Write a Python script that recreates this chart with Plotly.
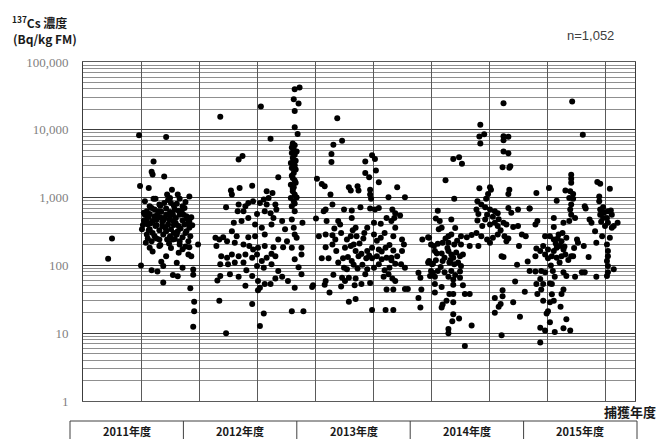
import plotly.graph_objects as go

# ---- data: capture month (months since April 2011) and 137Cs concentration (Bq/kg FM) ----
fy2011_month = [
    5.8, 8.6, 7.3, 7.1, 7.2, 8.4, 5.9, 6.8, 3.0, 2.6,
    9.2, 8.7, 9.8, 11.0, 7.3, 7.5, 9.0, 10.0,
    6.4, 6.9, 7.9, 8.4, 9.1, 9.7, 10.3, 10.5, 7.4, 8.6, 9.5, 6.6, 7.8, 9.0, 10.2,
    6.4, 6.9, 7.4, 8.0, 8.6, 9.0, 9.6, 10.0, 10.7, 11.2, 6.6, 7.2, 8.3, 9.3, 10.3, 11.0,
    6.2, 6.7, 7.6, 8.2, 8.8, 9.4, 9.9, 10.5, 11.0, 6.9, 7.9, 8.6, 9.1, 9.8, 10.7, 6.1,
    6.6, 7.4, 8.3, 9.0, 9.7, 10.3, 11.1, 7.9, 8.7, 9.5, 10.0, 10.9, 7.1,
    6.5, 7.9, 9.1, 10.0, 11.0, 6.9, 7.2, 9.9, 10.3, 10.9, 11.2, 11.9, 8.6,
    8.1, 9.7, 8.3, 10.3, 6.0, 7.1, 7.7, 9.3, 9.8, 11.4, 11.4, 8.3, 11.1,
    11.5, 11.5, 11.4,
    6.3, 6.8, 7.0, 7.6, 7.7, 8.1, 8.2, 8.5, 8.9, 9.2, 9.4, 9.6,
    9.9, 10.1, 10.4, 10.6, 10.8, 11.3, 7.2, 7.6, 8.0, 8.9, 9.3, 10.6,
    6.7, 6.3, 7.1, 8.0, 9.4, 8.8, 10.6, 9.3, 8.4, 7.5, 10.9, 6.8,
]
fy2011_cs = [
    8300, 7800, 3400, 2400, 2200, 2050, 1480, 1390, 250, 125,
    1300, 1110, 1110, 1040, 960, 960, 990, 960,
    880, 745, 790, 835, 835, 810, 745, 705, 665, 690, 665, 630, 630, 615, 630,
    560, 575, 530, 515, 560, 530, 500, 560, 530, 515, 475, 450, 460, 450, 460, 450,
    395, 400, 395, 380, 400, 395, 380, 400, 360, 340, 330, 320, 340, 320, 320, 340,
    285, 270, 285, 270, 285, 260, 270, 240, 240, 245, 228, 228, 228,
    215, 193, 180, 204, 185, 182, 160, 154, 173, 145, 137, 204, 137,
    113, 109, 98, 92, 100, 85, 81, 72, 69, 87, 73, 56, 46,
    29, 21, 12.5,
    600, 520, 420, 470, 560, 620, 440, 360, 470, 580, 300, 420,
    640, 350, 560, 300, 480, 390, 300, 250, 200, 210, 240, 190,
    250, 460, 700, 760, 760, 920, 860, 560, 500, 380, 410, 330,
]

fy2012_month = [
    21.9, 22.4, 21.8, 22.3, 21.9, 18.4, 14.2, 19.4, 21.9, 22.2,
    21.7, 21.9, 21.8, 21.6, 21.9, 21.7, 22.0, 21.5, 21.9, 21.6, 22.0,
    21.8, 21.7, 21.9, 21.5, 21.8, 21.7, 21.9, 21.5, 21.8, 21.6, 21.9,
    16.1, 16.5, 20.2, 17.5, 15.3, 16.2, 15.4, 19.0, 19.6, 19.2,
    14.8, 16.1, 16.8, 17.1, 17.6, 18.3, 18.7, 19.0, 19.9, 20.0,
    16.0, 16.6, 17.1, 18.0, 18.8, 19.4, 19.7, 20.6, 21.6, 22.7,
    15.6, 16.4, 17.8, 18.5, 19.5, 20.9, 21.8, 21.9, 15.4, 15.9,
    17.1, 17.8, 18.8, 20.2, 21.1, 22.1, 13.7, 14.1, 14.5, 14.9,
    13.8, 15.7, 16.6, 17.2, 17.6, 18.1, 18.8, 19.7, 20.7, 21.6, 22.6,
    14.3, 14.9, 15.4, 16.1, 16.8, 17.5, 18.0, 18.5, 19.0, 19.5, 19.9, 21.9, 22.6,
    14.2, 15.0, 15.7, 16.6, 18.0, 18.7, 19.5, 20.2, 22.3,
    14.2, 13.9, 15.2, 16.1, 16.9, 17.5, 18.1, 18.8, 18.3, 19.4, 19.9, 20.6, 21.2, 21.9, 22.6, 23.7, 16.8, 18.1, 23.8,
    14.1, 17.5, 18.7, 18.3, 14.8, 21.6, 22.8,
    21.6, 22.1, 21.8, 21.6, 22.0, 21.7, 22.1, 21.9,
]
fy2012_cs = [
    39500, 42000, 28300, 24500, 19000, 22000, 15600, 7400, 10900, 8700,
    6300, 5900, 5100, 4550, 4300, 3830, 3500, 3250, 3000, 2730, 2590,
    2310, 1950, 1790, 1550, 1420, 1240, 1110, 990, 880, 745, 630,
    3650, 4100, 2000, 1500, 1270, 1390, 1110, 1240, 1170, 990,
    720, 790, 745, 835, 880, 835, 940, 790, 790, 665,
    630, 630, 500, 575, 630, 590, 500, 450, 475, 425,
    425, 450, 400, 360, 400, 340, 360, 285, 320, 270,
    260, 270, 285, 240, 228, 255, 255, 240, 260, 228,
    193, 215, 204, 193, 172, 182, 193, 185, 185, 182, 182,
    137, 130, 145, 137, 145, 130, 145, 116, 130, 148, 137, 123, 145,
    104, 104, 110, 110, 98, 92, 104, 83, 94,
    70, 60, 74, 68, 85, 70, 59, 53, 47, 53, 64, 68, 59, 47, 74, 48, 50, 43, 51,
    30, 27, 19.5, 12.8, 10, 21, 21,
    5500, 4800, 3600, 2100, 1650, 1350, 1000, 820,
]

fy2013_month = [
    26.3, 25.9, 26.8, 25.7, 25.7, 29.9, 30.2, 29.2, 30.3, 29.2, 29.6,
    24.2, 24.7, 25.0, 30.6, 32.5, 27.5, 27.7, 28.4, 28.5, 25.6, 29.7, 29.7, 29.8, 31.6, 33.3,
    25.1, 24.9, 25.8, 27.0, 27.8, 27.8, 28.7, 29.7, 30.2, 30.6, 32.0, 32.3, 32.2, 32.8,
    24.1, 25.2, 26.4, 26.6, 28.2, 29.4, 30.1, 30.8, 31.4, 31.9, 32.3, 33.0,
    24.4, 25.1, 25.8, 26.1, 26.7, 27.7, 28.3, 29.0, 30.1, 30.8, 32.1, 33.2, 35.1, 35.8,
    25.1, 25.8, 26.2, 27.1, 27.7, 28.0, 28.2, 28.8, 29.4, 29.9, 30.6, 31.3, 31.7, 32.1, 33.0,
    24.7, 25.4, 26.9, 27.4, 27.8, 28.5, 29.3, 29.9, 30.4, 30.9, 31.4, 31.9, 32.5, 35.8,
    27.0, 27.3, 28.0, 28.9, 29.4, 30.1, 30.6, 31.2, 31.7, 32.3, 32.9, 33.3, 34.7,
    25.9, 26.8, 27.1, 27.5, 28.2, 29.2, 31.1, 31.6, 32.0, 32.3, 34.9, 35.9,
    25.1, 25.0, 25.5, 26.7, 28.1, 28.8, 29.7, 31.4, 32.1, 33.3, 33.6, 35.0,
    27.5, 28.2, 29.9, 31.3, 32.1, 34.7, 34.9, 35.7, 35.7,
    26.0, 27.3, 28.6, 29.1, 30.4, 31.2, 27.9, 29.6, 30.9, 28.4, 26.4, 31.9,
]
fy2013_cs = [
    14800, 6000, 6900, 4400, 3350, 4200, 3700, 3420, 2500, 2300, 2000,
    1900, 1590, 1470, 1690, 1420, 1420, 1270, 1470, 1270, 1110, 1300, 1110, 960, 1010, 1010,
    665, 630, 790, 665, 645, 500, 720, 690, 665, 705, 665, 590, 500, 545,
    490, 450, 450, 400, 360, 360, 425, 410, 500, 450, 360, 240,
    270, 285, 278, 240, 300, 270, 270, 250, 285, 255, 270, 204, 240, 255,
    185, 204, 163, 182, 193, 204, 163, 148, 163, 182, 172, 182, 200, 166, 163,
    127, 127, 127, 133, 116, 137, 127, 127, 137, 123, 130, 119, 137, 116,
    92, 88, 102, 102, 88, 92, 104, 85, 92, 106, 104, 92, 78,
    73, 66, 59, 66, 64, 74, 68, 74, 64, 59, 66, 70,
    59, 52, 40, 49, 51, 53, 55, 44, 44, 45, 45, 44,
    29, 32, 22, 22, 22, 33, 24, 260, 110,
    350, 240, 210, 300, 230, 300, 330, 140, 160, 90, 110, 130,
]

fy2014_month = [
    36.3, 36.1, 36.5, 36.2,
    43.5, 41.1, 41.0, 41.5, 41.1, 43.5, 44.0, 43.5, 43.5, 44.0, 43.4, 44.1, 44.2,
    38.3, 38.9, 39.2, 37.5, 41.0, 42.1, 42.2, 41.9, 41.7, 44.1, 44.0, 38.4,
    40.8, 41.2, 41.6, 42.1, 42.6, 42.9, 40.7, 40.9, 44.0, 45.0, 46.2, 36.7,
    36.5, 36.9, 38.1, 37.1, 36.8, 40.8, 41.6, 42.1, 42.6, 42.9, 43.5, 43.8, 44.5, 45.0,
    37.8, 38.5, 38.1, 39.1, 39.7, 40.2, 40.7, 41.2, 41.8, 42.4, 42.9, 43.6, 44.0, 45.4, 45.8,
    36.0, 36.7, 37.2, 37.8, 38.4, 39.1, 40.0, 40.9, 42.1, 43.8, 45.1,
    36.4, 37.1, 37.8, 38.1, 38.3, 38.6, 39.0, 39.3, 43.3, 43.5,
    36.2, 37.2, 37.9, 38.4, 38.8, 39.1, 44.9, 46.0,
    36.0, 36.7, 37.4, 38.1, 39.0, 36.4, 37.8, 38.3, 39.0, 44.7,
    36.4, 37.1, 38.3, 39.3, 45.7, 43.4, 36.4, 37.9, 38.3, 39.5, 40.0,
    37.6, 37.2, 37.1, 38.3, 42.6, 43.4, 43.2, 43.0, 44.5,
    38.3, 38.2, 38.9, 40.2, 42.6, 45.2, 37.8, 37.8, 43.3, 39.5,
    46.9, 46.2, 46.8, 47.0, 47.8, 46.9, 47.3, 47.6, 46.8, 47.8, 46.2, 46.8,
    47.4, 47.8, 46.9, 47.3, 47.6, 47.0, 47.4, 47.6, 47.96, 47.3, 47.8, 47.3,
    37.4, 37.7, 38.0, 38.7, 37.0, 38.5, 36.6, 37.5, 41.3, 42.4, 43.0, 41.8, 44.3, 43.2,
]
fy2014_cs = [
    193, 104, 119, 78,
    24600, 11900, 7950, 8600, 6300, 8000, 7900, 7000, 4800, 4500, 2800, 2750, 2900,
    3700, 3950, 3150, 1800, 1370, 1420, 1300, 1130, 960, 1300, 1130, 960,
    880, 790, 720, 665, 630, 590, 665, 575, 705, 665, 690, 640,
    490, 450, 475, 360, 340, 460, 475, 400, 425, 380, 425, 400, 370, 380,
    270, 355, 285, 270, 260, 280, 300, 270, 240, 255, 285, 270, 250, 285, 270,
    204, 208, 215, 215, 204, 204, 193, 193, 215, 228, 193,
    163, 150, 163, 145, 130, 155, 137, 145, 137, 133,
    106, 116, 110, 104, 110, 98, 102, 114,
    83, 83, 79, 83, 81, 68, 68, 62, 66, 58,
    53, 48, 52, 51, 41, 43, 40, 38, 38, 38, 38,
    30, 26.5, 24, 28.5, 33, 35, 27, 24.5, 28.5,
    19, 15, 16.5, 13, 20, 17.5, 11.5, 10, 9.3, 6.5,
    1170, 690, 400, 450, 270, 178, 163, 193, 137, 145, 83, 81,
    83, 79, 53, 63, 53, 38, 44, 30, 19.5, 12, 11, 7.3,
    130, 180, 120, 230, 95, 72, 150, 250, 380, 520, 480, 560, 600, 330,
]

fy2015_month = [
    50.6, 51.7, 50.5, 50.5, 50.5, 53.2, 53.5, 54.5, 48.2, 49.9,
    50.4, 50.7, 50.3, 50.7, 49.0, 53.4, 53.4, 51.9, 52.0, 50.5, 50.4,
    53.5, 53.8, 54.3, 54.6, 54.7, 53.5, 50.5, 50.9, 50.3, 49.7, 48.7, 48.7,
    52.4, 52.6, 54.2, 54.3, 55.3, 54.9, 54.7, 48.3, 48.7, 49.2, 49.5, 50.0,
    51.1, 51.2, 52.97, 53.7, 54.5, 48.1, 48.7, 49.0, 49.3, 49.7,
    48.1, 48.5, 49.0, 49.5, 49.9, 50.5, 50.7, 52.3, 51.8, 53.1, 54.2,
    54.3, 54.3, 54.2, 54.3, 48.6, 49.7, 50.0, 51.6, 51.9, 54.3, 54.9,
    48.3, 48.8, 48.5, 50.9, 53.1, 54.2, 48.5, 49.5, 49.7,
    48.3, 48.7, 48.1, 49.4, 48.3, 50.0, 48.8, 49.7, 50.4,
    48.9, 49.1, 49.8, 50.2, 48.4, 49.3, 50.8, 49.6, 53.8, 54.0, 53.6, 53.9,
]
fy2015_cs = [
    26100, 8450, 2180, 1900, 1650, 1700, 1600, 1350, 1390, 1270,
    1240, 1130, 990, 960, 900, 1040, 880, 745, 690, 790, 665,
    665, 720, 630, 645, 560, 560, 560, 500, 450, 425, 500, 370,
    475, 425, 500, 425, 425, 380, 360, 270, 240, 285, 228, 255,
    240, 215, 320, 270, 255, 172, 163, 182, 193, 172,
    127, 137, 130, 137, 145, 137, 137, 133, 193, 215, 204,
    163, 137, 116, 98, 83, 79, 70, 79, 79, 79, 88,
    54, 68, 53, 68, 68, 70, 37.5, 38, 44,
    28.5, 30, 21, 24.5, 14.5, 16, 10.4, 11.8, 11,
    210, 250, 190, 120, 100, 110, 180, 300, 500, 380, 440, 600,
]

# ---- axis / label text ----
y_tickvals = [1, 10, 100, 1000, 10000, 100000]
y_ticktext = ["1", "10", "100", "1,000", "10,000", "100,000"]
minor_digits = [2, 3, 4, 5, 6, 7, 8, 9]
year_labels = ["2011年度", "2012年度", "2013年度", "2014年度", "2015年度"]
n_label = "n=1,052"
y_title_line1 = "<sup>137</sup>Cs 濃度"
y_title_line2 = "(Bq/kg FM)"
x_title = "捕獲年度"

months = fy2011_month + fy2012_month + fy2013_month + fy2014_month + fy2015_month
cs = fy2011_cs + fy2012_cs + fy2013_cs + fy2014_cs + fy2015_cs
minor_vals = [d * 10 ** k for k in range(5) for d in minor_digits]

# ---- geometry ----
W, H = 657, 439
ML, MR, MT, MB = 83, 22, 62, 38
PW, PH = W - ML - MR, H - MT - MB


def px_x(x):
    return (x - ML) / PW


def px_y(y):
    return (H - MB - y) / PH


fig = go.Figure(
    go.Scatter(
        x=months, y=cs, mode="markers",
        marker=dict(color="black", size=6, line=dict(width=0)),
        hoverinfo="skip", showlegend=False,
    )
)

CJK = "Noto Sans CJK JP"

annotations = [
    dict(text="<b>" + y_title_line1 + "</b>", x=px_x(10), y=px_y(33), xanchor="left", yanchor="bottom",
         font=dict(family=CJK, size=12, color="#1a1a1a")),
    dict(text="<b>" + y_title_line2 + "</b>", x=px_x(11), y=px_y(28), xanchor="left", yanchor="top",
         font=dict(family=CJK, size=12, color="#1a1a1a")),
    dict(text=n_label, x=px_x(565), y=px_y(35), xanchor="left", yanchor="middle",
         font=dict(family="Liberation Sans", size=13, color="#404040")),
    dict(text="<b>" + x_title + "</b>", x=px_x(602), y=px_y(411), xanchor="left", yanchor="middle",
         font=dict(family=CJK, size=13, color="#1a1a1a")),
]

# bottom fiscal-year table
tbl_left, tbl_right, tbl_top = 70, 637, 421
bounds = [tbl_left + (tbl_right - tbl_left) * i / len(year_labels) for i in range(len(year_labels) + 1)]
shapes = [dict(type="rect", xref="paper", yref="paper",
               x0=px_x(tbl_left), x1=px_x(tbl_right), y0=px_y(tbl_top), y1=px_y(470),
               line=dict(color="#404040", width=1))]
for b in bounds[1:-1]:
    shapes.append(dict(type="line", xref="paper", yref="paper",
                       x0=px_x(b), x1=px_x(b), y0=px_y(tbl_top), y1=px_y(470),
                       line=dict(color="#404040", width=1)))
for i, lab in enumerate(year_labels):
    cx = (bounds[i] + bounds[i + 1]) / 2
    annotations.append(dict(text="<b>" + lab + "</b>", x=px_x(cx), y=px_y(431),
                            xanchor="center", yanchor="middle",
                            font=dict(family=CJK, size=11, color="#1a1a1a")))

for a in annotations:
    a.update(xref="paper", yref="paper", showarrow=False)

fig.update_layout(
    width=W, height=H,
    margin=dict(l=ML, r=MR, t=MT, b=MB, pad=0),
    paper_bgcolor="white", plot_bgcolor="white",
    showlegend=False,
    annotations=annotations,
    shapes=shapes,
    xaxis=dict(range=[0, 57.1], tick0=0, dtick=6, showgrid=True, gridcolor="#5a5a5a", gridwidth=1,
               showticklabels=False, ticks="", zeroline=False,
               showline=True, linecolor="#5a5a5a", linewidth=1, mirror=True),
    yaxis=dict(type="log", range=[0, 5], tickmode="array", tickvals=y_tickvals, ticktext=y_ticktext,
               showgrid=True, gridcolor="#3c3c3c", gridwidth=1,
               minor=dict(tickmode="array", tickvals=minor_vals, showgrid=True,
                          gridcolor="#8f8f8f", gridwidth=1, ticks=""),
               ticks="", ticklabelstandoff=11,
               tickfont=dict(family="Liberation Serif", size=13, color="#7f7f7f"),
               zeroline=False, showline=True, linecolor="#3c3c3c", linewidth=1, mirror=True),
)

fig.write_html(
    "out.html",
    config={"displayModeBar": False},
    post_script="document.body.style.margin='0';document.body.style.overflow='hidden';",
)
